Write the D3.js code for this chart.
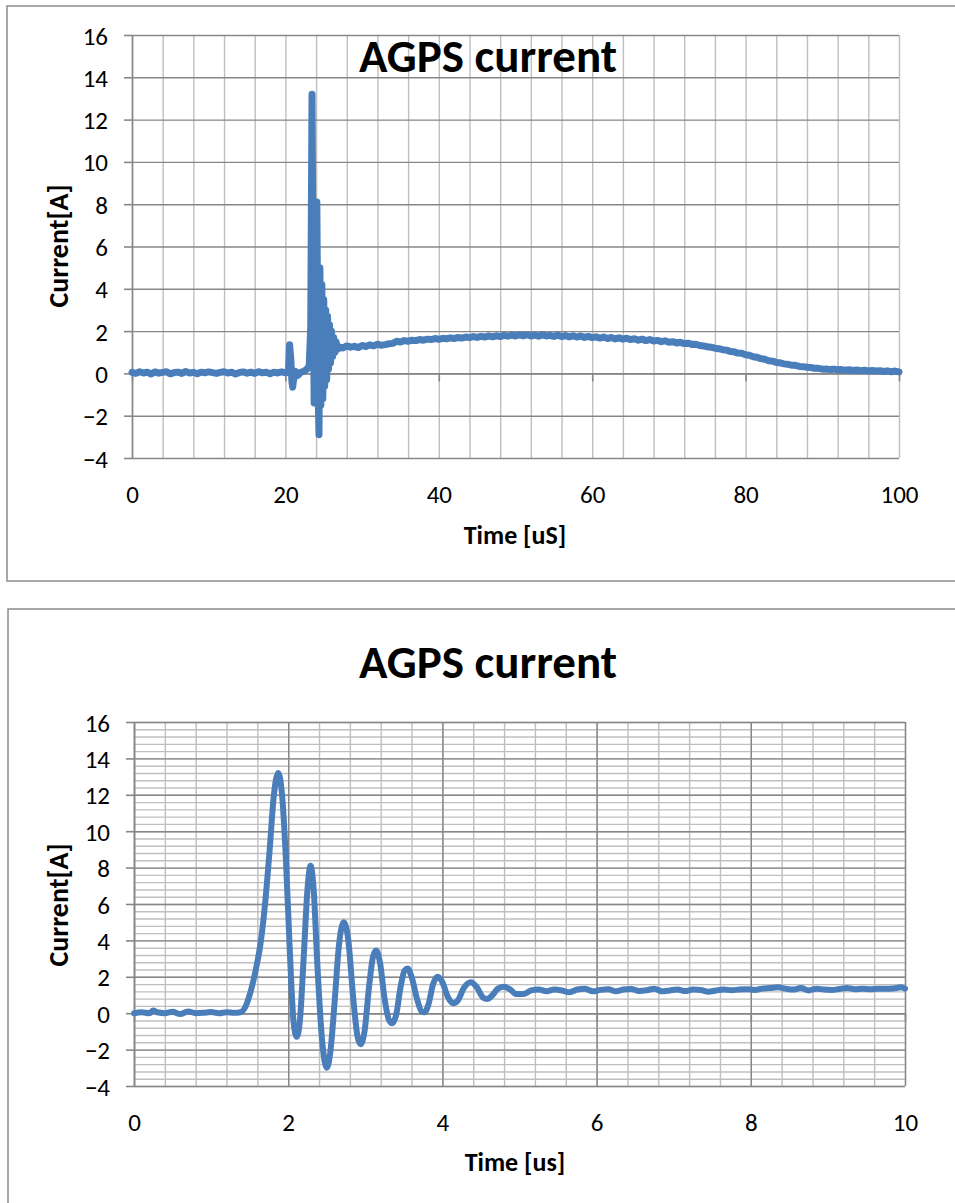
<!DOCTYPE html>
<html>
<head>
<meta charset="utf-8">
<script src="https://cdn.jsdelivr.net/npm/d3@7"></script>
<style>
  body { margin: 0; background: #fff; }
  svg { display: block; font-family: Carlito, Calibri, Lato, sans-serif; }
</style>
</head>
<body>
<svg id="chart" width="955" height="1203"></svg>
<script>
// ---- Data -----------------------------------------------------------------
// Full 100 us capture
const overviewTime = [
  0, 0.5, 1, 1.5, 2, 2.5, 3, 3.5, 4, 4.5, 5, 5.5, 6, 6.5, 7, 7.5, 8, 8.5, 9, 9.5,
  10, 11, 11.5, 12, 12.5, 13, 13.5, 14, 14.5, 15, 15.5, 16, 16.5, 17, 17.5, 18, 18.5, 19, 19.5, 20,
  20.4, 20.55, 20.7, 20.85, 20.95, 21.1, 21.3, 21.6, 22.0, 22.4, 22.8, 23.1, 23.3,
  23.47, 23.62, 23.75, 23.9, 24.1, 24.2, 24.3, 24.38, 24.5, 24.62, 24.75, 24.88,
  25.0, 25.12, 25.25, 25.38, 25.5, 25.62, 25.75, 25.88, 26.0, 26.15, 26.3, 26.45, 26.6, 26.8,
  27, 27.5, 28, 28.5, 29, 29.5, 30, 30.5, 31, 31.5, 32, 32.5, 33, 33.5, 34, 34.5, 35, 35.5, 36, 36.5,
  37, 37.5, 38, 38.5, 39, 39.5, 40, 40.5, 41, 41.5, 42, 42.5, 43, 43.5, 44, 44.5, 45, 45.5, 46, 46.5,
  47, 47.5, 48, 48.5, 49, 49.5, 50, 50.5, 51, 51.5, 52, 52.5, 53, 53.5, 54, 54.5, 55, 55.5, 56, 56.5,
  57, 57.5, 58, 58.5, 59, 59.5, 60, 60.5, 61, 61.5, 62, 62.5, 63, 63.5, 64, 64.5, 65, 65.5, 66, 66.5,
  67, 67.5, 68, 68.5, 69, 69.5, 70, 70.5, 71, 71.5, 72, 72.5, 73, 73.5, 74, 74.5, 75, 75.5, 76, 76.5,
  77, 77.5, 78, 78.5, 79, 79.5, 80, 80.5, 81, 81.5, 82, 82.5, 83, 83.5, 84, 84.5, 85, 85.5, 86, 86.5,
  87, 87.5, 88, 88.5, 89, 89.5, 90, 90.5, 91, 91.5, 92, 92.5, 93, 93.5, 94, 94.5, 95, 95.5, 96, 96.5,
  97, 97.5, 98, 98.5, 99, 99.5, 100
];
const overviewCurrent = [
  0.05, 0.0, 0.08, 0.02, 0.06, -0.03, 0.07, 0.01, 0.05, 0.08, -0.02, 0.04, 0.06, 0.0, 0.09, 0.02, 0.05, -0.02, 0.06, 0.03,
  0.07, 0.0, 0.05, 0.08, 0.02, 0.06, -0.03, 0.04, 0.07, 0.01, 0.06, 0.0, 0.08, 0.03, 0.05, -0.02, 0.06, 0.02, 0.07, 0.03,
  0.05, 1.35, 0.7, -0.4, -0.65, -0.2, 0.1, -0.1, 0.05, 0.1, 0.2, 0.35, 2.2,
  13.2, 4.0, -1.4, -1.0, 8.1, 3.0, -1.5, -2.9, 5.0, -1.5, 4.2, -1.2,
  3.5, -0.6, 3.0, -0.3, 2.7, 0.2, 2.3, 0.5, 2.0, 0.8, 1.7, 1.0, 1.5, 1.15,
  1.25, 1.2, 1.3, 1.24, 1.28, 1.22, 1.32, 1.27, 1.35, 1.3, 1.38, 1.33, 1.36, 1.4, 1.42, 1.52, 1.48, 1.55, 1.52, 1.57,
  1.55, 1.6, 1.57, 1.62, 1.6, 1.65, 1.61, 1.66, 1.64, 1.68, 1.65, 1.7, 1.67, 1.72, 1.69, 1.74, 1.7, 1.75, 1.72, 1.77,
  1.73, 1.78, 1.74, 1.8, 1.76, 1.81, 1.77, 1.82, 1.78, 1.83, 1.77, 1.81, 1.76, 1.82, 1.77, 1.8, 1.75, 1.81, 1.74, 1.79,
  1.73, 1.78, 1.72, 1.77, 1.7, 1.75, 1.69, 1.73, 1.67, 1.72, 1.65, 1.7, 1.63, 1.68, 1.62, 1.66, 1.6, 1.64, 1.57, 1.62,
  1.55, 1.6, 1.53, 1.56, 1.5, 1.54, 1.47, 1.5, 1.44, 1.47, 1.41, 1.43, 1.37, 1.38, 1.32, 1.3, 1.26, 1.24, 1.19, 1.17,
  1.12, 1.1, 1.04, 1.02, 0.96, 0.95, 0.88, 0.86, 0.79, 0.76, 0.7, 0.67, 0.6, 0.58, 0.52, 0.5, 0.45, 0.43, 0.39, 0.38,
  0.33, 0.32, 0.29, 0.28, 0.24, 0.24, 0.2, 0.21, 0.18, 0.2, 0.17, 0.18, 0.15, 0.17, 0.14, 0.16, 0.13, 0.15, 0.12, 0.14,
  0.11, 0.13, 0.09, 0.12, 0.08, 0.11, 0.07
];

// 10 us detail capture around the turn-on transient
const detailTime = [
  0, 0.1, 0.2, 0.25, 0.3, 0.4, 0.5, 0.6, 0.7, 0.8, 0.9, 1.0, 1.1, 1.2, 1.3, 1.38,
  1.45, 1.52, 1.58, 1.64, 1.7, 1.76, 1.81, 1.87, 1.92, 1.97, 2.02, 2.07, 2.11, 2.15,
  2.2, 2.25, 2.29, 2.33, 2.38, 2.44, 2.5, 2.55, 2.6, 2.66, 2.72, 2.78, 2.84, 2.9, 2.94, 2.99,
  3.05, 3.1, 3.14, 3.19, 3.25, 3.31, 3.35, 3.4, 3.46, 3.51, 3.55, 3.6, 3.67, 3.73, 3.77, 3.82,
  3.88, 3.94, 4.0, 4.07, 4.14, 4.2, 4.28, 4.37, 4.45, 4.53, 4.58, 4.65, 4.72, 4.8, 4.88, 4.96,
  5.05, 5.15, 5.25, 5.35, 5.45, 5.55, 5.65, 5.75, 5.85, 5.95, 6.05, 6.15, 6.25, 6.35, 6.45, 6.55,
  6.65, 6.75, 6.85, 6.95, 7.05, 7.15, 7.25, 7.35, 7.45, 7.55, 7.65, 7.75, 7.85, 7.95, 8.05, 8.15,
  8.25, 8.35, 8.45, 8.55, 8.65, 8.75, 8.85, 8.95, 9.05, 9.15, 9.25, 9.35, 9.45, 9.55, 9.65, 9.75,
  9.85, 9.95, 10.0
];
const detailCurrent = [
  0.0, 0.05, 0.0, 0.15, 0.05, 0.0, 0.08, -0.05, 0.1, 0.0, 0.02, 0.06, 0.0, 0.05, 0.02, 0.05,
  0.4, 1.3, 2.4, 3.8, 6.0, 9.0, 11.8, 13.2, 12.0, 8.5, 3.5, -0.5, -1.3, -0.5,
  3.0, 6.8, 8.1, 6.8, 2.5, -1.5, -3.0, -2.0, 0.5, 3.8, 5.0, 4.0, 1.0, -1.3, -1.7, -1.0,
  1.5, 3.1, 3.45, 2.8, 0.8, -0.4, -0.55, -0.1, 1.5, 2.35, 2.45, 2.0, 0.8, 0.1, 0.05, 0.5,
  1.6, 2.0, 1.7, 0.9, 0.55, 0.7, 1.4, 1.7, 1.4, 0.85, 0.78, 1.0, 1.35, 1.45, 1.3, 1.05,
  1.05, 1.25, 1.3, 1.2, 1.3, 1.25, 1.15, 1.3, 1.35, 1.2, 1.28, 1.32, 1.2, 1.3, 1.33, 1.22,
  1.26, 1.35, 1.2, 1.25, 1.3, 1.22, 1.3, 1.28, 1.18, 1.25, 1.3, 1.26, 1.3, 1.32, 1.28, 1.35,
  1.38, 1.42, 1.35, 1.3, 1.38, 1.25, 1.35, 1.3, 1.28, 1.33, 1.38, 1.32, 1.35, 1.32, 1.35, 1.34,
  1.36, 1.42, 1.35
];

const currentTicks = [-4, -2, 0, 2, 4, 6, 8, 10, 12, 14, 16];
const overviewTimeTicks = [0, 20, 40, 60, 80, 100];
const detailTimeTicks = [0, 2, 4, 6, 8, 10];

const chartTitle = "AGPS current";
const currentTitle = "Current[A]";
const overviewTimeTitle = "Time [uS]";
const detailTimeTitle = "Time [us]";

// ---- Styling --------------------------------------------------------------
const SERIES_COLOR = "#4a7ebb";
const MAJOR_GRID = "#878787";
const MINOR_GRID = "#bfbfbf";
const FRAME = "#8c8c8c";
const FONT = "Carlito, Calibri, Lato, sans-serif";

const svg = d3.select("#chart");

const panels = [
  {
    time: overviewTime, current: overviewCurrent,
    xMax: 100, xTicks: overviewTimeTicks, xMinorStep: 4, yMinorStep: null,
    xTitle: overviewTimeTitle,
    frame: { x: 7, y: 6, w: 1100, h: 575 },
    plot: { left: 132, right: 899, top: 35, bottom: 458 },
    titleY: 72, yTitleY: 246, xTitleY: 535,
    curve: d3.curveLinear, lineWidth: 7
  },
  {
    time: detailTime, current: detailCurrent,
    xMax: 10, xTicks: detailTimeTicks, xMinorStep: 0.4, yMinorStep: 0.4,
    xTitle: detailTimeTitle,
    frame: { x: 8, y: 609, w: 1100, h: 700 },
    plot: { left: 134, right: 905, top: 722, bottom: 1086 },
    titleY: 678, yTitleY: 905, xTitleY: 1162,
    curve: d3.curveMonotoneX, lineWidth: 6
  }
];

function gridValues(max, step) {
  return d3.range(0, Math.round(max / step) + 1).map(i => +(i * step).toFixed(6));
}

panels.forEach(p => {
  const g = svg.append("g");

  // chart frame
  g.append("rect")
    .attr("x", p.frame.x).attr("y", p.frame.y)
    .attr("width", p.frame.w).attr("height", p.frame.h)
    .attr("fill", "#fff").attr("stroke", FRAME).attr("stroke-width", 1.5);

  const x = d3.scaleLinear().domain([0, p.xMax]).range([p.plot.left, p.plot.right]);
  const y = d3.scaleLinear().domain([-4, 16]).range([p.plot.bottom, p.plot.top]);
  const plotW = p.plot.right - p.plot.left;
  const plotH = p.plot.bottom - p.plot.top;

  // minor vertical grid
  g.append("g")
    .attr("transform", `translate(0,${p.plot.bottom})`)
    .call(d3.axisBottom(x).tickValues(gridValues(p.xMax, p.xMinorStep)).tickSize(-plotH).tickFormat(""))
    .call(s => s.select(".domain").remove())
    .call(s => s.selectAll("line").attr("stroke", MINOR_GRID).attr("stroke-width", 1.4));

  // minor horizontal grid
  if (p.yMinorStep) {
    const vals = d3.range(0, Math.round(20 / p.yMinorStep) + 1).map(i => +(-4 + i * p.yMinorStep).toFixed(6));
    g.append("g")
      .attr("transform", `translate(${p.plot.left},0)`)
      .call(d3.axisLeft(y).tickValues(vals).tickSize(-plotW).tickFormat(""))
      .call(s => s.select(".domain").remove())
      .call(s => s.selectAll("line").attr("stroke", MINOR_GRID).attr("stroke-width", 1.4));
    // major vertical grid
    g.append("g")
      .attr("transform", `translate(0,${p.plot.bottom})`)
      .call(d3.axisBottom(x).tickValues(p.xTicks).tickSize(-plotH).tickFormat(""))
      .call(s => s.select(".domain").remove())
      .call(s => s.selectAll("line").attr("stroke", MAJOR_GRID).attr("stroke-width", 1.4));
  }

  // major horizontal grid
  g.append("g")
    .attr("transform", `translate(${p.plot.left},0)`)
    .call(d3.axisLeft(y).tickValues(currentTicks).tickSize(-plotW).tickFormat(""))
    .call(s => s.select(".domain").remove())
    .call(s => s.selectAll("line").attr("stroke", MAJOR_GRID).attr("stroke-width", 1.4));

  // horizontal axis line crossing at zero
  g.append("g")
    .attr("transform", `translate(0,${y(0)})`)
    .call(d3.axisBottom(x).tickValues(p.xTicks).tickSize(8).tickSizeOuter(0).tickFormat(""))
    .call(s => s.selectAll("line, path").attr("stroke", MAJOR_GRID).attr("stroke-width", 1.6));

  // vertical axis with labels
  g.append("g")
    .attr("transform", `translate(${p.plot.left},0)`)
    .call(d3.axisLeft(y).tickValues(currentTicks).tickSize(8).tickSizeOuter(0).tickPadding(16))
    .call(s => s.selectAll("line, path").attr("stroke", MAJOR_GRID).attr("stroke-width", 1.6))
    .call(s => s.selectAll("text")
      .attr("fill", "#000").attr("font-size", 25)
      .attr("font-family", FONT)
      .attr("dy", "0.36em"));

  // time labels along the bottom
  g.append("g")
    .attr("transform", `translate(0,${p.plot.bottom})`)
    .call(d3.axisBottom(x).tickValues(p.xTicks).tickSize(0).tickPadding(0))
    .call(s => s.select(".domain").remove())
    .call(s => s.selectAll("text")
      .attr("fill", "#000").attr("font-size", 25)
      .attr("font-family", FONT)
      .attr("y", 36).attr("dy", "0.36em"));

  // series
  const line = d3.line()
    .x((d, i) => x(p.time[i]))
    .y(d => y(d))
    .curve(p.curve);
  g.append("path")
    .datum(p.current)
    .attr("d", line)
    .attr("fill", "none")
    .attr("stroke", SERIES_COLOR)
    .attr("stroke-width", p.lineWidth)
    .attr("stroke-linejoin", "round")
    .attr("stroke-linecap", "round");

  // titles
  g.append("text")
    .attr("x", 488).attr("y", p.titleY)
    .attr("text-anchor", "middle")
    .attr("font-size", 47).attr("font-weight", "bold")
    .text(chartTitle);

  g.append("text")
    .attr("transform", `translate(58,${p.yTitleY}) rotate(-90)`)
    .attr("text-anchor", "middle").attr("dy", "0.35em")
    .attr("font-size", 28).attr("font-weight", "bold")
    .text(currentTitle);

  g.append("text")
    .attr("x", 515).attr("y", p.xTitleY)
    .attr("text-anchor", "middle").attr("dy", "0.35em")
    .attr("font-size", 26).attr("font-weight", "bold")
    .text(p.xTitle);
});
</script>
</body>
</html>
